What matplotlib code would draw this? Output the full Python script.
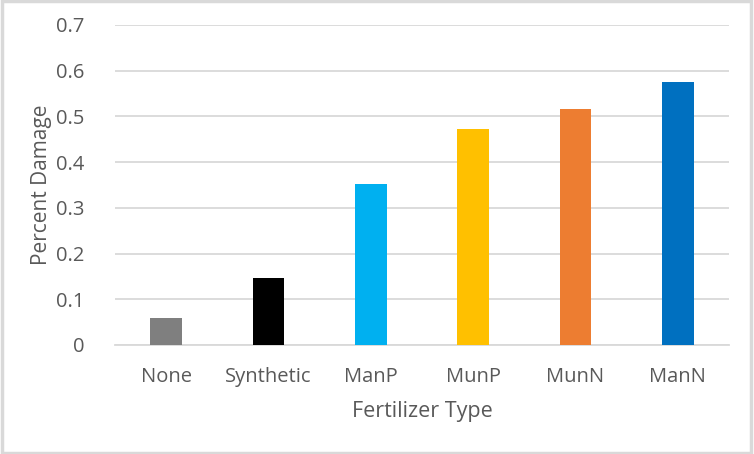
import matplotlib
matplotlib.use("Agg")
import matplotlib.pyplot as plt
from matplotlib.patches import Rectangle

# Data
fertilizers = ["None", "Synthetic", "ManP", "MunP", "MunN", "ManN"]
damage = [0.058, 0.146, 0.352, 0.472, 0.516, 0.575]
bar_colors = ["#7f7f7f", "#000000", "#00b0f0", "#ffc000", "#ed7d31", "#0070c0"]
yticks = [0, 0.1, 0.2, 0.3, 0.4, 0.5, 0.6, 0.7]
ytick_labels = ["0", "0.1", "0.2", "0.3", "0.4", "0.5", "0.6", "0.7"]

plt.rcParams["font.family"] = ["Open Sans", "DejaVu Sans"]
text_col = "#595959"
grid_col = "#d9d9d9"

fig = plt.figure(figsize=(7.54, 4.54), dpi=100)
ax = fig.add_axes([115 / 754, 1 - 345 / 454, (729 - 115) / 754, (345 - 25) / 454])

x = range(len(fertilizers))
ax.bar(x, damage, width=0.31, color=bar_colors, zorder=3)

ax.set_xlim(-0.5, len(fertilizers) - 0.5)
ax.set_ylim(0, 0.7)
ax.set_yticks(yticks)
ax.set_yticklabels(ytick_labels)
ax.set_xticks(list(x))
ax.set_xticklabels(fertilizers)
ax.grid(axis="y", color=grid_col, linewidth=1.3, zorder=0)
ax.tick_params(axis="both", length=0, labelsize=14.5, labelcolor=text_col)
ax.tick_params(axis="y", pad=22)
ax.tick_params(axis="x", pad=16)

for side in ["top", "right", "left"]:
    ax.spines[side].set_visible(False)
ax.spines["bottom"].set_color(grid_col)
ax.spines["bottom"].set_linewidth(1.3)

ax.set_xlabel("Fertilizer Type", fontsize=15.5, color=text_col, labelpad=10)
ax.set_ylabel("Percent Damage", fontsize=15, color=text_col)
ax.yaxis.set_label_coords(-0.102, 0.5)

# light border around the chart area
fig.patches.append(Rectangle((0.002, 0.003), 0.994, 0.994, transform=fig.transFigure,
                             fill=False, edgecolor="#d9d9d9", linewidth=2.5))

fig.savefig("out.png", dpi=100)
